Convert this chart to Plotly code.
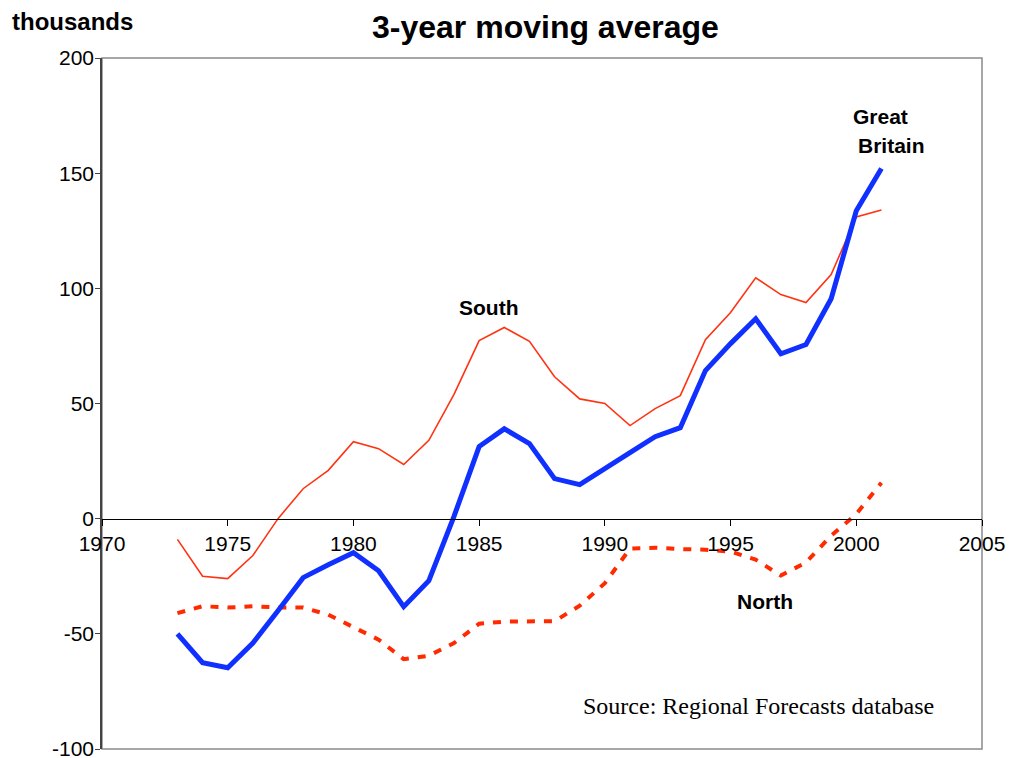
import plotly.graph_objects as go

years = list(range(1973, 2002))
great_britain = [-50, -62.5, -64.7, -54, -40, -25.6, -20, -14.8, -22.6, -38.2, -26.9, 1,
                 31.3, 39, 32.6, 17.4, 14.8, 22, 28.7, 35.6, 39.5, 64.3, 76, 86.8, 71.6,
                 75.6, 95.5, 133.7, 152]
south = [-9, -25, -26, -16, 0, 13, 21, 33.4, 30.4, 23.5, 34, 54, 77.3, 83, 77, 61.6,
         52, 50, 40.4, 47.8, 53.4, 77.7, 89.5, 104.6, 97.3, 93.8, 106, 131, 134]
north = [-41, -38, -38.6, -38, -38.6, -38.6, -41.7, -47, -52.5, -61, -59.5, -54, -45.6,
         -44.7, -44.5, -44.5, -37.8, -28, -13, -12.6, -13.2, -13.5, -14.3, -17.8, -24.7,
         -19, -7.4, 2, 15.6]
x_ticks = [1970, 1975, 1980, 1985, 1990, 1995, 2000, 2005]
y_ticks = [-100, -50, 0, 50, 100, 150, 200]
y_tick_text = ["-100", "-50", "0", "50", "100", "150", "200"]

fig = go.Figure()
fig.add_trace(go.Scatter(x=years, y=south, mode="lines", name="South",
                         line=dict(color="#FF3311", width=1.6)))
fig.add_trace(go.Scatter(x=years, y=north, mode="lines", name="North",
                         line=dict(color="#FF2A00", width=4, dash="8px,9px")))
fig.add_trace(go.Scatter(x=years, y=great_britain, mode="lines", name="Great Britain",
                         line=dict(color="#1030FF", width=5)))

fig.add_shape(type="rect", xref="paper", yref="paper", x0=0, x1=1, y0=0, y1=1,
              line=dict(color="#8a8a8a", width=1.5), layer="below")

font = "Liberation Sans, Arial, sans-serif"
fig.update_layout(
    width=1014, height=758,
    margin=dict(l=94, r=40, t=50, b=17, autoexpand=False),
    paper_bgcolor="white", plot_bgcolor="white",
    showlegend=False,
    font=dict(family=font, size=21, color="black"),
    xaxis=dict(range=[1970, 2005], tickvals=x_ticks, showgrid=False, zeroline=False,
               showline=True, linecolor="black", linewidth=1.2,
               ticks="outside", ticklen=6, tickcolor="black",
               anchor="free", position=1/3, tickfont=dict(size=21),
               ticklabeloverflow="allow"),
    yaxis=dict(range=[-100, 200], tickvals=y_ticks, ticktext=y_tick_text,
               showgrid=False, zeroline=False,
               showline=True, linecolor="#444444", linewidth=1.5,
               ticks="outside", ticklen=5, tickcolor="#444444",
               tickfont=dict(size=21), ticklabeloverflow="allow",
               ticklabelstandoff=-3),
    annotations=[
        dict(text="<b>3-year moving average</b>", xref="paper", yref="paper",
             x=0.5045, y=1.0449, xanchor="center", yanchor="middle", showarrow=False,
             font=dict(size=32, family=font)),
        dict(text="<b>thousands</b>", xref="paper", yref="paper",
             x=-0.034, y=1.0535, xanchor="center", yanchor="middle", showarrow=False,
             font=dict(size=24, family=font)),
        dict(text="<b>South</b>", x=1985.39, y=91.6, showarrow=False,
             xanchor="center", yanchor="middle", font=dict(size=21, family=font)),
        dict(text="<b>Great</b>", x=2000.98, y=174.8, showarrow=False,
             xanchor="center", yanchor="middle", font=dict(size=21, family=font)),
        dict(text="<b>Britain</b>", x=2001.42, y=162, showarrow=False,
             xanchor="center", yanchor="middle", font=dict(size=21, family=font)),
        dict(text="<b>North</b>", x=1996.37, y=-36, showarrow=False,
             xanchor="center", yanchor="middle", font=dict(size=21, family=font)),
        dict(text="Source: Regional Forecasts database", x=1996.13, y=-81.2,
             showarrow=False, xanchor="center", yanchor="middle",
             font=dict(size=24, family="Liberation Serif, Times New Roman, serif")),
    ],
)

fig.write_html("out.html")
